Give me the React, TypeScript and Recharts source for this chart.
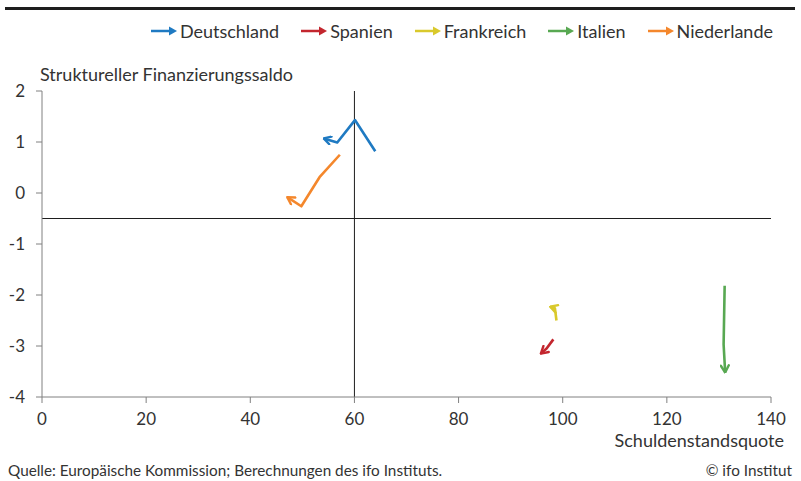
import { LineChart, Line, XAxis, YAxis, ReferenceLine } from 'recharts';

const FONT = 'Lato, "Open Sans", sans-serif';
const TEXT = '#333333';
const AXIS = '#808080';

// Schuldenstandsquote (x) und struktureller Finanzierungssaldo (y), Pfeil am letzten Punkt
const deutschlandDebt = [64.0, 60.1, 56.7, 54.1];
const deutschlandBalance = [0.82, 1.43, 0.99, 1.07];
const spanienDebt = [98.2, 96.9, 95.8];
const spanienBalance = [-2.87, -3.05, -3.15];
const frankreichDebt = [98.8, 98.5, 97.6];
const frankreichBalance = [-2.5, -2.26, -2.23];
const italienDebt = [131.1, 130.9, 131.2];
const italienBalance = [-1.82, -2.97, -3.52];
const niederlandeDebt = [57.2, 53.3, 49.8, 47.1];
const niederlandeBalance = [0.75, 0.31, -0.26, -0.08];

const xTicks = [0, 20, 40, 60, 80, 100, 120, 140];
const yTicks = [-4, -3, -2, -1, 0, 1, 2];

const toPoints = (xs: number[], ys: number[]) => xs.map((x, i) => ({ x, y: ys[i] }));

const series = [
  { id: 'de', name: 'Deutschland', color: '#1f7ac2', data: toPoints(deutschlandDebt, deutschlandBalance) },
  { id: 'es', name: 'Spanien', color: '#c3262e', data: toPoints(spanienDebt, spanienBalance) },
  { id: 'fr', name: 'Frankreich', color: '#d9c92c', data: toPoints(frankreichDebt, frankreichBalance) },
  { id: 'it', name: 'Italien', color: '#58a852', data: toPoints(italienDebt, italienBalance) },
  { id: 'nl', name: 'Niederlande', color: '#f4872c', data: toPoints(niederlandeDebt, niederlandeBalance) },
];

function LegendArrow({ color }: { color: string }) {
  return (
    <svg width={28} height={12} style={{ display: 'block' }}>
      <line x1={1} y1={6} x2={22} y2={6} stroke={color} strokeWidth={2.5} />
      <path d="M19,1.5 L27,6 L19,10.5 Z" fill={color} />
    </svg>
  );
}

export default function App() {
  return (
    <div
      style={{
        position: 'absolute',
        left: 0,
        top: 0,
        width: 801,
        height: 481,
        background: '#fff',
        fontFamily: FONT,
        color: TEXT,
      }}
    >
      <div style={{ position: 'absolute', left: 5, top: 7, width: 790, height: 3, background: '#1e1e1e' }} />

      <div
        style={{
          position: 'absolute',
          right: 28,
          top: 20,
          display: 'flex',
          gap: 21,
          fontSize: 18,
          lineHeight: '22px',
        }}
      >
        {series.map((s) => (
          <div key={s.id} style={{ display: 'flex', alignItems: 'center', gap: 2 }}>
            <LegendArrow color={s.color} />
            <span>{s.name}</span>
          </div>
        ))}
      </div>

      <div style={{ position: 'absolute', left: 40, top: 63, fontSize: 18, lineHeight: '22px' }}>
        Struktureller Finanzierungssaldo
      </div>

      <LineChart width={801} height={481} margin={{ top: 91, right: 30, bottom: 54, left: 0 }}>
        <defs>
          {series.map((s) => (
            <marker
              key={s.id}
              id={`arrow-${s.id}`}
              viewBox="0 0 10 10"
              refX={9}
              refY={5}
              markerWidth={10}
              markerHeight={10}
              markerUnits="userSpaceOnUse"
              orient="auto"
            >
              <path
                d="M2,1 L9,5 L2,9"
                fill="none"
                stroke={s.color}
                strokeWidth={2.4}
                strokeLinecap="round"
                strokeLinejoin="round"
              />
            </marker>
          ))}
        </defs>
        <XAxis
          dataKey="x"
          type="number"
          domain={[0, 140]}
          ticks={xTicks}
          interval={0}
          height={30}
          stroke={AXIS}
          tickSize={6}
          tickMargin={10}
          tick={{ fill: TEXT, fontSize: 17, fontFamily: FONT }}
          allowDataOverflow
        />
        <YAxis
          type="number"
          domain={[-4, 2]}
          ticks={yTicks}
          interval={0}
          width={42}
          stroke={AXIS}
          tickSize={6}
          tickMargin={11}
          tick={{ fill: TEXT, fontSize: 17, fontFamily: FONT }}
          allowDataOverflow
        />
        <ReferenceLine x={60} stroke="#1e1e1e" strokeWidth={1} />
        <ReferenceLine y={-0.5} stroke="#1e1e1e" strokeWidth={1} />
        {series.map((s) => (
          <Line
            key={s.id}
            data={s.data}
            dataKey="y"
            name={s.name}
            type="linear"
            stroke={s.color}
            strokeWidth={2.6}
            strokeLinejoin="round"
            dot={false}
            activeDot={false}
            markerEnd={`url(#arrow-${s.id})`}
            isAnimationActive={false}
          />
        ))}
      </LineChart>

      <div style={{ position: 'absolute', right: 17, top: 429, fontSize: 18, lineHeight: '22px' }}>
        Schuldenstandsquote
      </div>

      <div style={{ position: 'absolute', left: 8, top: 461, fontSize: 15.3, lineHeight: '18px' }}>
        Quelle: Europäische Kommission; Berechnungen des ifo Instituts.
      </div>
      <div style={{ position: 'absolute', right: 9, top: 461, fontSize: 15.3, lineHeight: '18px' }}>
        © ifo Institut
      </div>
    </div>
  );
}
